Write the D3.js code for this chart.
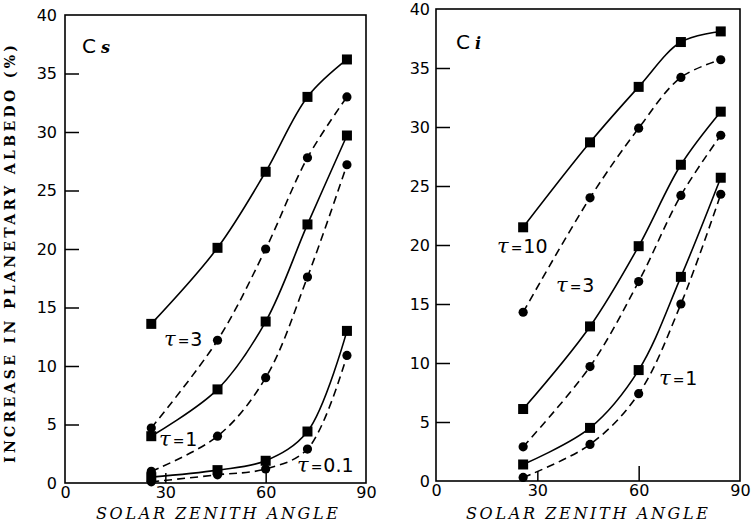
<!DOCTYPE html>
<html>
<head>
<meta charset="utf-8">
<script src="https://cdn.jsdelivr.net/npm/d3@7"></script>
<style>
body { margin: 0; background: #fff; }
svg { display: block; }
</style>
</head>
<body>
<svg id="chart" width="753" height="528"></svg>
<script>
// solar zenith angles (cos = 0.9, 0.7, 0.5, 0.3, 0.1)
var angles = [25.8, 45.6, 60, 72.5, 84.3]
var xTicks = [0, 30, 60, 90]
var yTicks = [0, 5, 10, 15, 20, 25, 30, 35, 40]

// Cs panel
var csTau3Sq = [13.6, 20.1, 26.6, 33.0, 36.2]
var csTau3Ci = [4.7, 12.2, 20.0, 27.8, 33.0]
var csTau1Sq = [4.0, 8.0, 13.8, 22.1, 29.7]
var csTau1Ci = [1.0, 4.0, 9.0, 17.6, 27.2]
var csTau01Sq = [0.5, 1.1, 1.9, 4.4, 13.0]
var csTau01Ci = [0.1, 0.7, 1.2, 2.9, 10.9]

// Ci panel
var ciTau10Sq = [21.5, 28.7, 33.4, 37.2, 38.1]
var ciTau10Ci = [14.3, 24.0, 29.9, 34.2, 35.7]
var ciTau3Sq = [6.1, 13.1, 19.9, 26.8, 31.3]
var ciTau3Ci = [2.9, 9.7, 16.9, 24.2, 29.3]
var ciTau1Sq = [1.4, 4.5, 9.4, 17.3, 25.7]
var ciTau1Ci = [0.3, 3.1, 7.4, 15.0, 24.3]

var svg = d3.select('#chart')

var panels = [
    {
        name: 'C', sub: 's',
        x: d3.scaleLinear().domain([0, 90]).range([65, 366]),
        y: d3.scaleLinear().domain([0, 40]).range([483, 15]),
        series: [
            { v: csTau3Sq, mark: 'sq' }, { v: csTau3Ci, mark: 'ci' },
            { v: csTau1Sq, mark: 'sq' }, { v: csTau1Ci, mark: 'ci' },
            { v: csTau01Sq, mark: 'sq' }, { v: csTau01Ci, mark: 'ci' }
        ],
        labels: [
            { t: '3', x: 164, y: 346 },
            { t: '1', x: 159, y: 446 },
            { t: '0.1', x: 297, y: 472 }
        ],
        lab: { x: 82, y: 53 }, yPad: 8, xlab: 217
    },
    {
        name: 'C', sub: 'i',
        x: d3.scaleLinear().domain([0, 90]).range([436, 740]),
        y: d3.scaleLinear().domain([0, 40]).range([481, 9]),
        series: [
            { v: ciTau10Sq, mark: 'sq' }, { v: ciTau10Ci, mark: 'ci' },
            { v: ciTau3Sq, mark: 'sq' }, { v: ciTau3Ci, mark: 'ci' },
            { v: ciTau1Sq, mark: 'sq' }, { v: ciTau1Ci, mark: 'ci' }
        ],
        labels: [
            { t: '10', x: 497, y: 253 },
            { t: '3', x: 556, y: 292 },
            { t: '1', x: 659, y: 385 }
        ],
        lab: { x: 456, y: 49 }, yPad: 6, xlab: 587
    }
]

panels.forEach(function (p) {
    var x = p.x, y = p.y
    var g = svg.append('g')

    // frame
    g.append('rect')
        .attr('x', x(0)).attr('y', y(40))
        .attr('width', x(90) - x(0)).attr('height', y(0) - y(40))
        .attr('fill', 'none').attr('stroke', '#000').attr('stroke-width', 1.6)

    var ya = g.append('g')
        .attr('transform', 'translate(' + x(0) + ',0)')
        .call(d3.axisLeft(y).tickValues(yTicks).tickSize(-14).tickPadding(p.yPad))
    ya.select('.domain').remove()
    ya.selectAll('line').attr('stroke-width', 1.5)
        .filter(function (d) { return d == 0 || d == 40 }).remove()
    ya.selectAll('text').attr('font-family', 'DejaVu Sans').attr('font-size', 16)

    var xa = g.append('g')
        .attr('transform', 'translate(0,' + y(0) + ')')
        .call(d3.axisBottom(x).tickValues(xTicks).tickSize(-12).tickPadding(4))
    xa.select('.domain').remove()
    xa.selectAll('line').attr('stroke-width', 1.5)
        .attr('y2', function (d) { return d == 30 ? -10 : d == 60 ? -15 : 0 })
    xa.selectAll('text').attr('font-family', 'DejaVu Sans').attr('font-size', 16)

    g.append('text')
        .attr('x', p.xlab).attr('y', 519)
        .attr('text-anchor', 'middle')
        .attr('font-family', 'DejaVu Serif').attr('font-style', 'italic')
        .attr('font-size', 16)
        .attr('textLength', 242).attr('lengthAdjust', 'spacing')
        .text('SOLAR ZENITH ANGLE')

    var t = g.append('text')
        .attr('x', p.lab.x).attr('y', p.lab.y)
        .attr('font-family', 'DejaVu Sans').attr('font-size', 20)
    t.append('tspan').text(p.name)
    t.append('tspan').attr('dx', 5).attr('font-family', 'DejaVu Serif').attr('font-style', 'italic')
        .attr('font-weight', 'bold').attr('font-size', 16).text(p.sub)

    var line = d3.line()
        .x(function (d, i) { return x(angles[i]) })
        .y(function (d) { return y(d) })
        .curve(d3.curveCatmullRom.alpha(0.5))

    p.series.forEach(function (s) {
        g.append('path')
            .attr('d', line(s.v))
            .attr('fill', 'none').attr('stroke', '#000').attr('stroke-width', 1.6)
            .attr('stroke-dasharray', s.mark == 'ci' ? '8,5' : null)
        if (s.mark == 'sq') {
            g.selectAll(null).data(s.v).enter().append('rect')
                .attr('x', function (d, i) { return x(angles[i]) - 5 })
                .attr('y', function (d) { return y(d) - 5 })
                .attr('width', 10).attr('height', 10)
                .attr('fill', '#000')
        } else {
            g.selectAll(null).data(s.v).enter().append('circle')
                .attr('cx', function (d, i) { return x(angles[i]) })
                .attr('cy', function (d) { return y(d) })
                .attr('r', 4.6)
                .attr('fill', '#000')
        }
    })

    p.labels.forEach(function (l) {
        var tx = g.append('text')
            .attr('x', l.x).attr('y', l.y)
            .attr('font-family', 'DejaVu Sans').attr('font-size', 19)
        tx.append('tspan').attr('font-family', 'DejaVu Serif').attr('font-style', 'italic').attr('font-size', 21).text('τ')
        tx.append('tspan').attr('font-size', 14).attr('dx', 2).text('=')
        tx.append('tspan').attr('dx', 1).text(l.t)
    })
})

svg.append('text')
    .attr('transform', 'translate(15,254) rotate(-90)')
    .attr('text-anchor', 'middle')
    .attr('font-family', 'DejaVu Serif').attr('font-weight', 'bold')
    .attr('font-size', 14)
    .attr('textLength', 418).attr('lengthAdjust', 'spacing')
    .text('INCREASE IN PLANETARY ALBEDO (%)')
</script>
</body>
</html>
